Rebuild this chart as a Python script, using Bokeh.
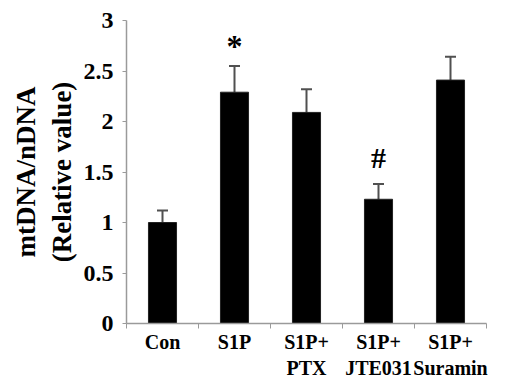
from bokeh.plotting import figure
from bokeh.models import ColumnDataSource, FixedTicker, Range1d, Whisker, TeeHead
from bokeh.core.properties import value
from bokeh.embed import file_html
from bokeh.resources import INLINE

categories = ["Con", "S1P", "S1P+\nPTX", "S1P+\nJTE031", "S1P+\nSuramin"]
values = [1.00, 2.29, 2.09, 1.23, 2.41]
errors = [0.12, 0.26, 0.23, 0.15, 0.23]
marks = ["", "*", "", "#", ""]
y_ticks = [0, 0.5, 1, 1.5, 2, 2.5, 3]
y_labels = ["0", "0.5", "1", "1.5", "2", "2.5", "3"]

xs = [i + 0.5 for i in range(len(categories))]
tops = [v + e for v, e in zip(values, errors)]
src = ColumnDataSource(dict(x=xs, v=values, top=tops, mark=marks))

FONT = "Liberation Serif"
AX = "#9a9a9a"

p = figure(frame_width=360, frame_height=303, output_backend="svg", toolbar_location=None,
           x_range=Range1d(0, len(categories)), y_range=Range1d(0, 3),
           min_border_left=126, min_border_right=12, min_border_top=20, min_border_bottom=0)
p.outline_line_color = None
p.grid.grid_line_color = None
p.background_fill_color = "white"

p.vbar(x="x", top="v", bottom=0, width=0.39, source=src, fill_color="black", line_color="#222222", line_width=1)

w = Whisker(base="x", upper="top", lower="v", source=src, line_color="#505050", line_width=2,
            upper_head=TeeHead(size=11, line_color="#505050", line_width=2), lower_head=None)
p.add_layout(w)

star = ColumnDataSource(dict(x=[x for x, m in zip(xs, marks) if m == "*"],
                             y=[t for t, m in zip(tops, marks) if m == "*"]))
hsh = ColumnDataSource(dict(x=[x for x, m in zip(xs, marks) if m == "#"],
                            y=[t for t, m in zip(tops, marks) if m == "#"]))
p.text(x="x", y="y", text=value("*"), source=star, text_font=value(FONT), text_font_style="bold",
       text_font_size="32px", text_align="center", text_baseline="middle", y_offset=-20, text_color="black")
p.text(x="x", y="y", text=value("#"), source=hsh, text_font=value(FONT), text_font_style="bold",
       text_font_size="30px", text_align="center", text_baseline="middle", y_offset=-27, text_color="black")

# x axis
xa = p.xaxis[0]
xa.ticker = FixedTicker(ticks=xs, minor_ticks=list(range(len(categories) + 1)))
xa.major_label_overrides = {x: c for x, c in zip(xs, categories)}
xa.major_tick_line_color = None
xa.major_tick_out = 0
xa.major_tick_in = 0
xa.minor_tick_line_color = AX
xa.minor_tick_out = 5
xa.minor_tick_in = 0
xa.axis_line_color = AX
xa.axis_line_width = 1.5
xa.major_label_text_font = FONT
xa.major_label_text_font_style = "bold"
xa.major_label_text_font_size = "20px"
xa.major_label_text_color = "black"
xa.major_label_standoff = 2

# y axis
ya = p.yaxis[0]
ya.ticker = FixedTicker(ticks=y_ticks, minor_ticks=[])
ya.major_label_overrides = {t: l for t, l in zip(y_ticks, y_labels)}
ya.axis_line_color = AX
ya.axis_line_width = 1.5
ya.major_tick_line_color = AX
ya.major_tick_out = 4
ya.major_tick_in = 0
ya.major_label_text_font = FONT
ya.major_label_text_font_style = "bold"
ya.major_label_text_font_size = "24px"
ya.major_label_text_color = "black"
ya.major_label_text_align = "center"
ya.major_label_standoff = 9
ya.axis_label = "mtDNA/nDNA\n(Relative value)"
ya.axis_label_text_font = FONT
ya.axis_label_text_font_style = "bold"
ya.axis_label_text_font_size = "27px"
ya.axis_label_text_color = "black"
ya.axis_label_standoff = 4

open("out.html", "w").write(file_html(p, INLINE))
